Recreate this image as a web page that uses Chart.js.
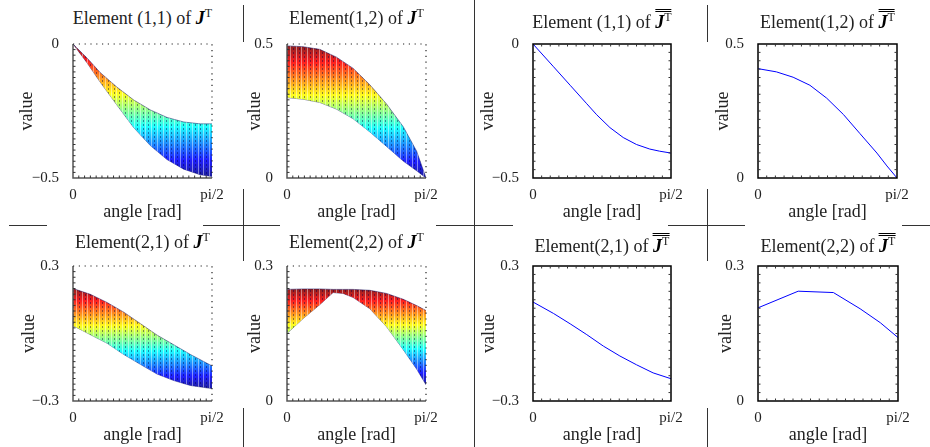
<!DOCTYPE html>
<html>
<head>
<meta charset="utf-8">
<script src="https://cdn.jsdelivr.net/npm/chart.js@4.4.1/dist/chart.umd.min.js"></script>
<style>
  body { margin: 0; background: #fff; width: 930px; height: 447px; position: relative; overflow: hidden;
         font-family: "Liberation Serif", serif; color: #222; }
  canvas { position: absolute; }
  .ttl { position: absolute; transform: translateX(-50%); white-space: nowrap; font-size: 18px; line-height: 18px; }
  .ttl b { font-style: italic; color: #000; }
  .ttl sup { font-size: 12px; position: relative; top: -7px; vertical-align: baseline; font-weight: normal; font-style: normal; }
  .bar { display: inline-block; border-top: 3px double #000; line-height: 15px; padding-top: 3px; }
  .sep { position: absolute; background: #333; }
</style>
</head>
<body>
<script>
// x axis (angle, rad) tick labels
const angleTicks = ['0', 'pi/2'];

// J^T element (1,1): upper / lower edge of the surface
const j11Angle = [0, 0.158, 0.309, 0.497, 0.686, 0.874, 1.062, 1.251, 1.439, 1.571];
const j11Upper = [0, -0.052, -0.107, -0.161, -0.209, -0.246, -0.274, -0.291, -0.298, -0.298];
const j11Lower = [0, -0.070, -0.143, -0.228, -0.312, -0.379, -0.431, -0.467, -0.488, -0.494];

// J^T element (1,2)
const j12Angle = [0, 0.181, 0.370, 0.559, 0.748, 0.936, 1.125, 1.314, 1.465, 1.571];
const j12Upper = [0.493, 0.490, 0.480, 0.451, 0.409, 0.348, 0.276, 0.191, 0.100, 0];
const j12Lower = [0.300, 0.294, 0.282, 0.257, 0.221, 0.172, 0.118, 0.063, 0.027, 0];

// J^T element (2,1)
const j21Angle = [0, 0.196, 0.384, 0.573, 0.761, 0.949, 1.138, 1.326, 1.571];
const j21Upper = [0.200, 0.174, 0.138, 0.095, 0.044, -0.007, -0.050, -0.093, -0.144];
const j21Lower = [0.035, -0.005, -0.043, -0.093, -0.137, -0.180, -0.209, -0.231, -0.245];

// J^T element (2,2)
const j22Angle = [0, 0.181, 0.370, 0.521, 0.634, 0.748, 0.936, 1.125, 1.314, 1.465, 1.571];
const j22Upper = [0.248, 0.249, 0.249, 0.248, 0.248, 0.248, 0.246, 0.239, 0.226, 0.212, 0.201];
const j22Lower = [0.150, 0.183, 0.214, 0.241, 0.239, 0.230, 0.205, 0.165, 0.114, 0.071, 0.036];

// mean J^T curves
const m11Angle = [0, 0.234, 0.423, 0.612, 0.725, 0.876, 1.027, 1.178, 1.329, 1.442, 1.571];
const m11Value = [0, -0.085, -0.154, -0.223, -0.264, -0.312, -0.349, -0.375, -0.392, -0.400, -0.407];
const m12Angle = [0, 0.208, 0.397, 0.587, 0.776, 0.965, 1.154, 1.344, 1.457, 1.571];
const m12Value = [0.408, 0.396, 0.376, 0.346, 0.298, 0.237, 0.165, 0.093, 0.045, 0];
const m21Angle = [0, 0.234, 0.423, 0.612, 0.801, 0.989, 1.178, 1.367, 1.571];
const m21Value = [0.140, 0.089, 0.043, -0.005, -0.056, -0.100, -0.139, -0.175, -0.201];
const m22Angle = [0, 0.451, 0.846, 1.146, 1.372, 1.571];
const m22Value = [0.207, 0.244, 0.241, 0.205, 0.174, 0.141];

// y ranges and their labels
const range11 = [-0.5, 0], ticks11 = ['\u22120.5', '0'];
const range12 = [0, 0.5], ticks12 = ['0', '0.5'];
const range21 = [-0.3, 0.3], ticks21 = ['\u22120.3', '0.3'];
const range22 = [0, 0.3], ticks22 = ['0', '0.3'];

Chart.defaults.font.family = '"Liberation Serif", serif';
Chart.defaults.font.weight = 'normal';
Chart.defaults.color = '#222';

const jetStops = [[0, 'rgba(0,0,143,0.88)'], [0.125, 'rgba(0,0,255,0.88)'], [0.375, 'rgba(0,255,255,0.88)'],
                  [0.625, 'rgba(255,255,0,0.88)'], [0.875, 'rgba(255,0,0,0.88)'], [1, 'rgba(128,0,0,0.88)']];

function jetFill(chart, lo, hi) {
  const {ctx, chartArea, scales} = chart;
  if (!chartArea) return 'rgba(0,0,0,0)';
  const g = ctx.createLinearGradient(0, scales.y.getPixelForValue(lo), 0, scales.y.getPixelForValue(hi));
  jetStops.forEach(s => g.addColorStop(s[0], s[1]));
  return g;
}

// mesh-like hatching inside the band
const hatch = {
  id: 'hatch',
  afterDatasetsDraw(chart, args, opts) {
    if (!opts.on) return;
    const {ctx, chartArea: a, scales: {x, y}} = chart;
    const up = chart.data.datasets[0].data, lo = chart.data.datasets[1].data;
    ctx.save();
    ctx.beginPath();
    up.forEach((p, i) => {
      const px = x.getPixelForValue(p.x), py = y.getPixelForValue(p.y);
      i ? ctx.lineTo(px, py) : ctx.moveTo(px, py);
    });
    for (let i = lo.length - 1; i >= 0; i--) ctx.lineTo(x.getPixelForValue(lo[i].x), y.getPixelForValue(lo[i].y));
    ctx.closePath();
    ctx.clip();
    const step = a.width / 24;
    ctx.strokeStyle = 'rgba(255,255,255,0.45)';
    ctx.lineWidth = 1;
    ctx.beginPath();
    for (let px = a.left + step / 2; px < a.right; px += step) {
      ctx.moveTo(Math.round(px) + 0.5, a.top); ctx.lineTo(Math.round(px) + 0.5, a.bottom);
    }
    ctx.stroke();
    ctx.strokeStyle = 'rgba(0,0,70,0.45)';
    ctx.setLineDash([2, 2]);
    ctx.beginPath();
    for (let px = a.left; px < a.right; px += step) {
      ctx.moveTo(Math.round(px) + 0.5, a.top); ctx.lineTo(Math.round(px) + 0.5, a.bottom);
    }
    ctx.stroke();
    ctx.restore();
  }
};

// axes frame + small inward ticks
const frame = {
  id: 'frame',
  afterDraw(chart, args, o) {
    const {ctx, chartArea: a} = chart;
    ctx.save();
    if (o.box) {
      ctx.strokeStyle = '#000'; ctx.lineWidth = 1.5;
      ctx.strokeRect(a.left, a.top, a.width, a.height);
    } else {
      ctx.strokeStyle = '#555'; ctx.lineWidth = 1.5;
      ctx.beginPath(); ctx.moveTo(a.left, a.top); ctx.lineTo(a.left, a.bottom); ctx.lineTo(a.right, a.bottom); ctx.stroke();
      ctx.setLineDash([1.2, 4.6]); ctx.strokeStyle = '#222'; ctx.lineWidth = 1.2;
      ctx.beginPath(); ctx.moveTo(a.left, a.top); ctx.lineTo(a.right, a.top); ctx.lineTo(a.right, a.bottom); ctx.stroke();
      ctx.setLineDash([]);
    }
    const n = o.box ? 16 : 24;
    ctx.strokeStyle = '#333'; ctx.lineWidth = 1;
    ctx.beginPath();
    for (let i = 1; i < n; i++) {
      const px = a.left + a.width * i / n, py = a.top + a.height * i / n;
      ctx.moveTo(px, a.bottom); ctx.lineTo(px, a.bottom - 2.5);
      ctx.moveTo(a.left, py); ctx.lineTo(a.left + 2.5, py);
      if (o.box) {
        ctx.moveTo(px, a.top); ctx.lineTo(px, a.top + 2.5);
        ctx.moveTo(a.right, py); ctx.lineTo(a.right - 2.5, py);
      }
    }
    ctx.stroke();
    ctx.restore();
  }
};

const PAD_L = 60, PAD_R = 22, PAD_T = 12, PAD_B = 48;
const toPts = (xs, ys) => xs.map((x, i) => ({x: x, y: ys[i]}));

function makePanel(p) {
  const [l, t, r, b] = p.box;
  const cv = document.createElement('canvas');
  cv.width = r - l + PAD_L + PAD_R;
  cv.height = b - t + PAD_T + PAD_B;
  cv.style.left = (l - PAD_L) + 'px';
  cv.style.top = (t - PAD_T) + 'px';
  document.body.appendChild(cv);

  const ttl = document.createElement('div');
  ttl.className = 'ttl';
  ttl.style.left = ((l + r) / 2) + 'px';
  ttl.style.top = p.titleTop + 'px';
  ttl.innerHTML = p.title + (p.mean ? '<span class="bar"><b>J</b><sup>T</sup></span>' : '<b>J</b><sup>T</sup>');
  document.body.appendChild(ttl);

  let datasets;
  if (p.mean) {
    datasets = [{data: toPts(p.angle, p.value), borderColor: '#0000ff', borderWidth: 1, pointRadius: 0, fill: false}];
  } else {
    const lo = Math.min(...p.lower), hi = Math.max(...p.upper);
    datasets = [
      {data: toPts(p.angle, p.upper), borderColor: 'rgba(0,0,90,0.6)', borderWidth: 0.8, pointRadius: 0,
       fill: '+1', backgroundColor: c => jetFill(c.chart, lo, hi)},
      {data: toPts(p.angle, p.lower), borderColor: 'rgba(0,0,90,0.6)', borderWidth: 0.8, pointRadius: 0, fill: false}
    ];
  }

  new Chart(cv, {
    type: 'line',
    data: {datasets: datasets},
    plugins: [hatch, frame],
    options: {
      responsive: false,
      animation: false,
      layout: {padding: {left: 0, right: PAD_R, top: PAD_T, bottom: 0}},
      plugins: {legend: {display: false}, tooltip: {enabled: false}, hatch: {on: !p.mean}, frame: {box: p.mean}},
      scales: {
        x: {
          type: 'linear', min: 0, max: Math.PI / 2,
          grid: {display: false}, border: {display: false},
          afterBuildTicks: s => { s.ticks = [{value: 0}, {value: Math.PI / 2}]; },
          afterFit: s => { s.height = PAD_B; },
          ticks: {maxRotation: 0, autoSkip: false, padding: 0, font: {size: 15, weight: 'normal'}, callback: (v, i) => angleTicks[i]},
          title: {display: true, text: 'angle [rad]', font: {size: 18, weight: 'normal', lineHeight: 1}, padding: {top: 0, bottom: 5}}
        },
        y: {
          min: p.range[0], max: p.range[1],
          grid: {display: false}, border: {display: false},
          afterBuildTicks: s => { s.ticks = p.range.map(v => ({value: v})); },
          afterFit: s => { s.width = PAD_L; },
          ticks: {padding: 6, autoSkip: false, font: {size: 15, weight: 'normal'}, callback: (v, i) => p.tickText[i]},
          title: {display: true, text: 'value', font: {size: 18, weight: 'normal', lineHeight: 1}, padding: {top: PAD_L - p.labelGap - 9, bottom: 0}}
        }
      }
    }
  });
}

const panels = [
  {box: [73, 41, 212, 178], titleTop: 9, title: 'Element (1,1) of ', angle: j11Angle, upper: j11Upper, lower: j11Lower, range: range11, tickText: ticks11, labelGap: 46},
  {box: [287, 41, 426, 178], titleTop: 9, title: 'Element(1,2) of ', angle: j12Angle, upper: j12Upper, lower: j12Lower, range: range12, tickText: ticks12, labelGap: 32},
  {box: [73, 263, 212, 401], titleTop: 233, title: 'Element(2,1) of ', angle: j21Angle, upper: j21Upper, lower: j21Lower, range: range21, tickText: ticks21, labelGap: 44},
  {box: [287, 263, 426, 401], titleTop: 233, title: 'Element(2,2) of ', angle: j22Angle, upper: j22Upper, lower: j22Lower, range: range22, tickText: ticks22, labelGap: 32},
  {box: [533, 41, 671, 178], titleTop: 9, title: 'Element (1,1) of ', mean: true, angle: m11Angle, value: m11Value, range: range11, tickText: ticks11, labelGap: 45},
  {box: [758, 41, 897, 178], titleTop: 9, title: 'Element(1,2) of ', mean: true, angle: m12Angle, value: m12Value, range: range12, tickText: ticks12, labelGap: 35},
  {box: [533, 263, 671, 401], titleTop: 233, title: 'Element(2,1) of ', mean: true, angle: m21Angle, value: m21Value, range: range21, tickText: ticks21, labelGap: 44},
  {box: [758, 263, 898, 401], titleTop: 233, title: 'Element(2,2) of ', mean: true, angle: m22Angle, value: m22Value, range: range22, tickText: ticks22, labelGap: 32}
];
panels.forEach(makePanel);

// separator strokes of the composed figure: [left, top, width, height]
const seps = [
  [474, 0, 1, 447],
  [243, 5, 1, 37], [243, 189, 1, 72], [243, 408, 1, 39],
  [707, 5, 1, 37], [707, 189, 1, 72], [707, 408, 1, 39],
  [9, 225, 38, 1], [203, 225, 77, 1], [436, 225, 77, 1], [668, 225, 77, 1], [902, 225, 28, 1]
];
seps.forEach(s => {
  const d = document.createElement('div');
  d.className = 'sep';
  d.style.left = s[0] + 'px'; d.style.top = s[1] + 'px';
  d.style.width = s[2] + 'px'; d.style.height = s[3] + 'px';
  document.body.appendChild(d);
});
</script>
</body>
</html>
